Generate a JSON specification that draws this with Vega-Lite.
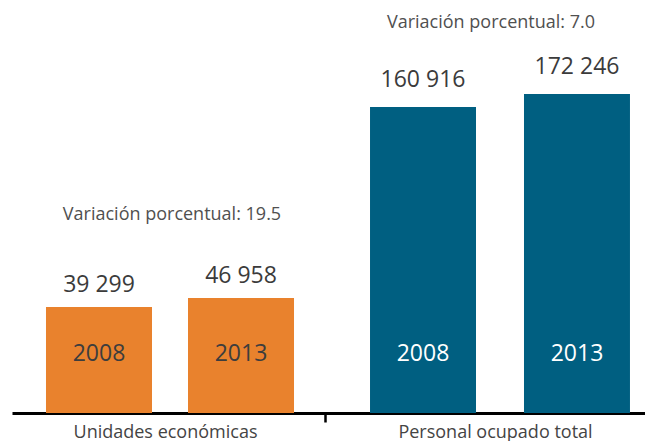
{
  "$schema": "https://vega.github.io/schema/vega-lite/v6.json",
  "autosize": {"type": "none"},
  "padding": {"left": 12, "top": 0, "right": 0, "bottom": 28},
  "width": 633,
  "height": 413,
  "config": {
    "view": {"stroke": null},
    "font": "Open Sans",
    "locale": {"number": {"decimal": ".", "thousands": " ", "grouping": [3], "currency": ["$", ""]}},
    "axis": {
      "grid": false,
      "domainColor": "#000000",
      "domainWidth": 3,
      "tickColor": "#000000",
      "tickWidth": 2.5,
      "tickSize": 9,
      "labelFont": "Open Sans",
      "labelFontSize": 18,
      "labelColor": "#444444",
      "labelPadding": 1,
      "labelLimit": 0
    }
  },
  "datasets": {
    "unidades": [
      {"grupo": "Unidades económicas", "anio": "2008", "valor": 39299},
      {"grupo": "Unidades económicas", "anio": "2013", "valor": 46958}
    ],
    "personal": [
      {"grupo": "Personal ocupado total", "anio": "2008", "valor": 160916},
      {"grupo": "Personal ocupado total", "anio": "2013", "valor": 172246}
    ],
    "variaciones": [
      {"grupo": "Unidades económicas", "variacion": 19.5, "texto": "Variación porcentual: 19.5"},
      {"grupo": "Personal ocupado total", "variacion": 7.0, "texto": "Variación porcentual: 7.0"}
    ]
  },
  "layer": [
    {
      "data": {"name": "unidades"},
      "encoding": {
        "x": {
          "field": "grupo", "type": "nominal",
          "scale": {"domain": ["Unidades económicas", "Personal ocupado total"], "range": [0, 646], "paddingInner": 0.0424, "paddingOuter": 0},
          "axis": {"title": null, "labelAngle": 0, "ticks": true, "tickOffset": -175, "labelOffset": 170}
        },
        "y": {"field": "valor", "type": "quantitative", "scale": {"domain": [-50907, 300556]}, "axis": null}
      },
      "layer": [
        {
          "mark": {"type": "bar", "color": "#E9822D"},
          "encoding": {
            "xOffset": {"field": "anio", "type": "nominal", "scale": {"paddingInner": 0.2535, "paddingOuter": 0.2394}},
            "y2": {"datum": -50907}
          }
        },
        {
          "mark": {"type": "text", "baseline": "alphabetic", "dy": -15, "fontSize": 23, "color": "#3b3b3b"},
          "encoding": {
            "xOffset": {"field": "anio", "type": "nominal", "scale": {"paddingInner": 0.2535, "paddingOuter": 0.2394}},
            "text": {"field": "valor", "type": "quantitative", "format": ",d"}
          }
        },
        {
          "mark": {"type": "text", "baseline": "alphabetic", "dy": -52, "fontSize": 23, "color": "#3d3d3d"},
          "encoding": {
            "xOffset": {"field": "anio", "type": "nominal", "scale": {"paddingInner": 0.2535, "paddingOuter": 0.2394}},
            "y": {"datum": -50907},
            "text": {"field": "anio", "type": "nominal"}
          }
        },
        {
          "transform": [
            {"filter": "datum.anio == '2013'"},
            {"lookup": "grupo", "from": {"data": {"name": "variaciones"}, "key": "grupo", "fields": ["texto"]}}
          ],
          "mark": {"type": "text", "baseline": "alphabetic", "dy": -78, "dx": 2, "fontSize": 18, "color": "#505050"},
          "encoding": {
            "text": {"field": "texto", "type": "nominal"}
          }
        }
      ]
    },
    {
      "data": {"name": "personal"},
      "encoding": {
        "x": {
          "field": "grupo", "type": "nominal",
          "scale": {"domain": ["Unidades económicas", "Personal ocupado total"], "range": [0, 646], "paddingInner": 0.0424, "paddingOuter": 0},
          "axis": {"title": null, "labelAngle": 0, "ticks": true, "tickOffset": -175, "labelOffset": 170}
        },
        "y": {"field": "valor", "type": "quantitative", "scale": {"domain": [-105763, 254167]}, "axis": null}
      },
      "layer": [
        {
          "mark": {"type": "bar", "color": "#005F81"},
          "encoding": {
            "xOffset": {"field": "anio", "type": "nominal", "scale": {"paddingInner": 0.3117, "paddingOuter": 0.182}},
            "y2": {"datum": -105763}
          }
        },
        {
          "mark": {"type": "text", "baseline": "alphabetic", "dy": -20, "fontSize": 23, "color": "#3b3b3b"},
          "encoding": {
            "xOffset": {"field": "anio", "type": "nominal", "scale": {"paddingInner": 0.3117, "paddingOuter": 0.182}},
            "text": {"field": "valor", "type": "quantitative", "format": ",d"}
          }
        },
        {
          "mark": {"type": "text", "baseline": "alphabetic", "dy": -52, "fontSize": 23, "color": "#ffffff"},
          "encoding": {
            "xOffset": {"field": "anio", "type": "nominal", "scale": {"paddingInner": 0.3117, "paddingOuter": 0.182}},
            "y": {"datum": -105763},
            "text": {"field": "anio", "type": "nominal"}
          }
        },
        {
          "transform": [
            {"filter": "datum.anio == '2013'"},
            {"lookup": "grupo", "from": {"data": {"name": "variaciones"}, "key": "grupo", "fields": ["texto"]}}
          ],
          "mark": {"type": "text", "baseline": "alphabetic", "dy": -66, "dx": -9, "fontSize": 18, "color": "#505050"},
          "encoding": {
            "text": {"field": "texto", "type": "nominal"}
          }
        }
      ]
    }
  ],
  "resolve": {"scale": {"y": "independent", "xOffset": "independent"}}
}
